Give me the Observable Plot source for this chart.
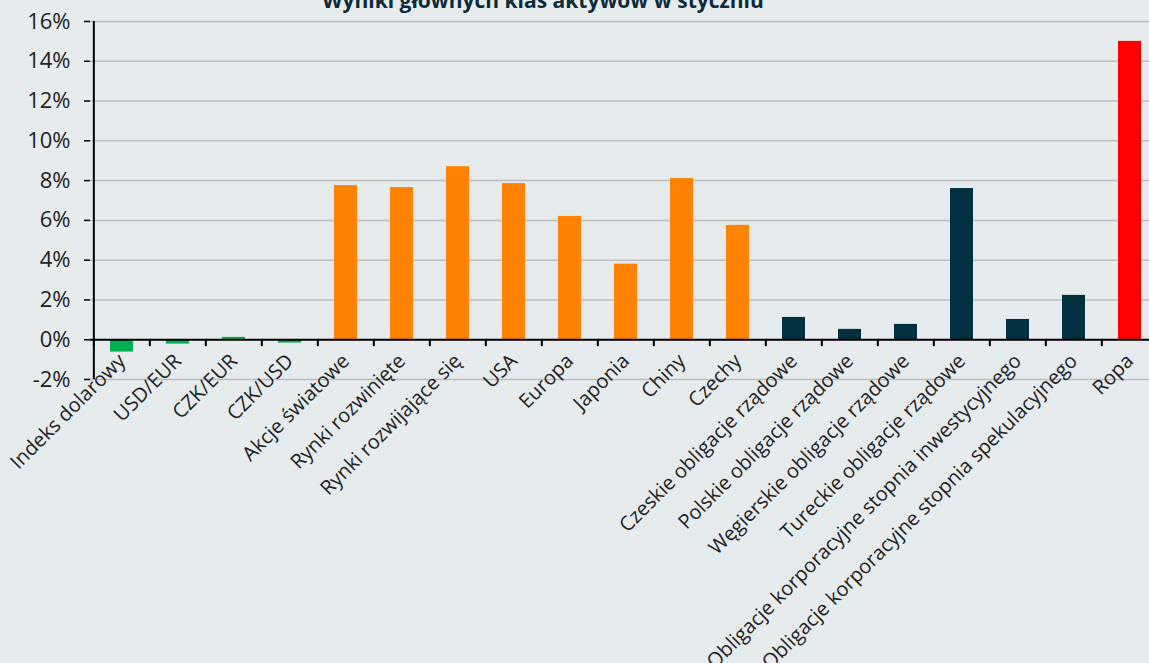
<!DOCTYPE html>
<html>
<head>
<meta charset="utf-8">
<script src="https://cdn.jsdelivr.net/npm/d3@7"></script>
<script src="https://cdn.jsdelivr.net/npm/@observablehq/plot@0.6"></script>
<style>
  html, body { margin: 0; padding: 0; background: #e6ebee; overflow: hidden; }
  #wrap { position: relative; width: 1149px; height: 663px; }
  #title { position: absolute; top: -14px; left: 0; width: 1086px; text-align: center;
    font-family: "Open Sans", sans-serif; font-weight: 700; font-size: 21px; color: #0b2a3a; z-index: 2; }
  svg { font-family: "Open Sans", sans-serif; }
</style>
</head>
<body>
<div id="wrap">
  <div id="title">Wyniki głównych klas aktywów w styczniu</div>
  <div id="chart"></div>
</div>
<script>
const categories = [
  "Indeks dolarowy", "USD/EUR", "CZK/EUR", "CZK/USD",
  "Akcje światowe", "Rynki rozwinięte", "Rynki rozwijające się", "USA", "Europa", "Japonia", "Chiny", "Czechy",
  "Czeskie obligacje rządowe", "Polskie obligacje rządowe", "Węgierskie obligacje rządowe", "Tureckie obligacje rządowe",
  "Obligacje korporacyjne stopnia inwestycyjnego", "Obligacje korporacyjne stopnia spekulacyjnego",
  "Ropa"
];
const values = [
  -0.62, -0.22, 0.12, -0.17,
  7.75, 7.65, 8.7, 7.85, 6.2, 3.8, 8.1, 5.75,
  1.12, 0.52, 0.77, 7.6,
  1.02, 2.23,
  15.0
];
const groups = [
  "fx", "fx", "fx", "fx",
  "eq", "eq", "eq", "eq", "eq", "eq", "eq", "eq",
  "bd", "bd", "bd", "bd",
  "bd", "bd",
  "oil"
];
const groupColors = { fx: "#00b050", eq: "#ff8200", bd: "#03303e", oil: "#ff0000" };
const yTicks = [-2, 0, 2, 4, 6, 8, 10, 12, 14, 16];

const data = categories.map((c, i) => ({ cat: c, value: values[i], group: groups[i] }));

const W = 1149, H = 663;
const xRange = [90, 1160];
const step = (xRange[1] - xRange[0]) / categories.length;

const chart = Plot.plot({
  width: W,
  height: H,
  marginTop: 21,
  marginBottom: 284,
  marginLeft: 90,
  marginRight: 0,
  style: { background: "transparent", fontSize: "20px", color: "#222", overflow: "visible" },
  x: { type: "band", domain: categories, range: xRange, paddingInner: 0.59, paddingOuter: 0.295, axis: null },
  y: { domain: [-2, 16], axis: null },
  marks: [
    Plot.ruleY(yTicks, { stroke: "#bdbdbd", strokeWidth: 1.5 }),
    Plot.barY(data, { x: "cat", y: "value", fill: d => groupColors[d.group] }),
    Plot.axisY({ ticks: yTicks, tickSize: 6, text: null, label: null, stroke: "#000", strokeWidth: 1.5 }),
    Plot.text(yTicks, { y: d => d, text: d => d + "%", frameAnchor: "left", textAnchor: "end", dx: -20,
      fontSize: 22, fill: "#222", style: "letter-spacing:0.5px" }),
    Plot.ruleX([categories[0]], { x: d => d, y1: -2, y2: 16, dx: -step / 2, stroke: "#000", strokeWidth: 2 }),
    Plot.ruleX(categories, { x: d => d, y1: 0, y2: -0.35, dx: -step / 2, stroke: "#000", strokeWidth: 2 }),
    Plot.ruleY([0], { stroke: "#000", strokeWidth: 2 }),
    Plot.text(categories, { x: d => d, y: () => 0, text: d => d, rotate: -45, textAnchor: "end",
      lineAnchor: "middle", dy: 18, dx: 0, fontSize: 20, fill: "#222" })
  ]
});
document.getElementById("chart").appendChild(chart);
</script>
</body>
</html>
